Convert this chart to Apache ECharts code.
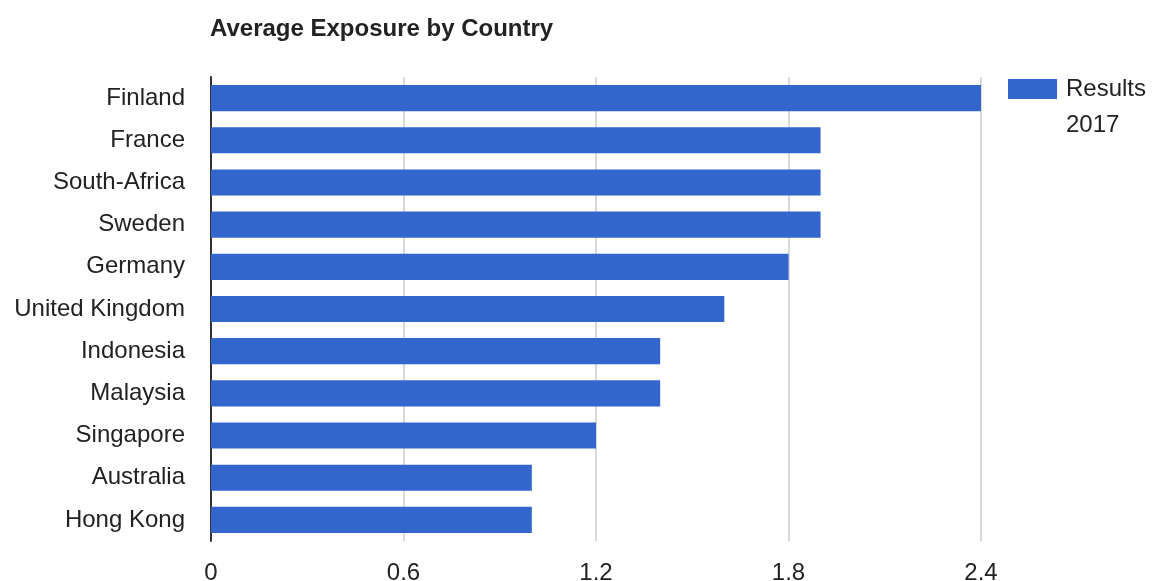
<!DOCTYPE html>
<html>
<head>
<meta charset="utf-8">
<script src="https://cdn.jsdelivr.net/npm/echarts@6/dist/echarts.min.js"></script>
<style>
  html, body { margin: 0; padding: 0; background: #fff; }
  #main { width: 1153px; height: 581px; }
</style>
</head>
<body>
<div id="main"></div>
<script>
// data
var countries = ['Finland', 'France', 'South-Africa', 'Sweden', 'Germany', 'United Kingdom',
  'Indonesia', 'Malaysia', 'Singapore', 'Australia', 'Hong Kong'];
var results2017 = [2.4, 1.9, 1.9, 1.9, 1.8, 1.6, 1.4, 1.4, 1.2, 1.0, 1.0];
var xTicks = [0, 0.6, 1.2, 1.8, 2.4];

var myChart = echarts.init(document.getElementById('main'));
var option = {
  animation: false,
  textStyle: { fontFamily: 'Liberation Sans, Arial, sans-serif' },
  title: {
    text: 'Average Exposure by Country',
    left: 205,
    top: 12,
    textStyle: { fontSize: 24, fontWeight: 'bold', color: '#222' }
  },
  legend: {
    left: 1008,
    top: 35,
    padding: 0,
    orient: 'vertical',
    icon: 'rect',
    itemWidth: 49,
    itemHeight: 20,
    // empty first line keeps "Results" level with the colour box
    formatter: function (name) { return '\n' + name.replace(' ', '\n'); },
    textStyle: { fontSize: 24, color: '#222', lineHeight: 36, padding: [0, 0, 0, 4] }
  },
  grid: { left: 211, right: 172, top: 77, bottom: 40, outerBoundsMode: 'none' },
  xAxis: {
    type: 'value',
    min: 0,
    max: xTicks[xTicks.length - 1],
    interval: 0.6,
    axisLine: { show: false },
    axisTick: { show: false },
    axisLabel: {
      fontSize: 24, color: '#222', margin: 20,
      formatter: function (v) { return String(Math.round(v * 10) / 10); }
    },
    splitLine: { lineStyle: { color: '#d9d9d9', width: 2 } }
  },
  yAxis: {
    type: 'category',
    inverse: true,
    data: countries,
    axisLine: { show: true, lineStyle: { color: '#333', width: 2 } },
    axisTick: { show: false },
    axisLabel: { fontSize: 24, color: '#222', margin: 26 }
  },
  series: [{
    name: 'Results 2017',
    type: 'bar',
    data: results2017,
    barCategoryGap: '38%',
    itemStyle: { color: '#3366cc' }
  }]
};
myChart.setOption(option);
</script>
</body>
</html>
